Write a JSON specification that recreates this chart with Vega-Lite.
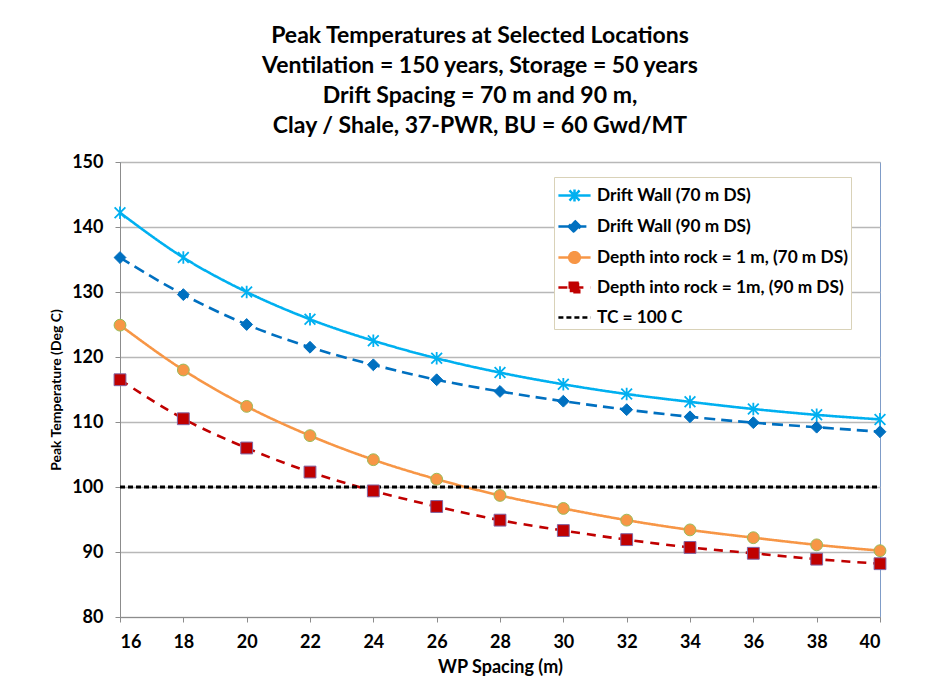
{
  "$schema": "https://vega.github.io/schema/vega-lite/v6.json",
  "width": 760,
  "height": 455,
  "autosize": {"type": "none"},
  "padding": {"left": 120, "top": 162, "right": 56, "bottom": 68},
  "background": "white",
  "config": {
    "font": "Lato",
    "view": {"stroke": "#7f9cc8", "strokeWidth": 1},
    "axis": {"labelFont": "Lato", "labelFontSize": 18, "labelFontWeight": "bold", "labelColor": "black", "titleFont": "Lato", "titleFontSize": 18, "titleFontWeight": "bold", "titleColor": "black", "domainColor": "#8c8c8c", "tickColor": "#8c8c8c", "tickSize": 5}
  },
  "title": {
    "text": ["Peak Temperatures at Selected Locations", "Ventilation = 150 years, Storage = 50 years", "Drift Spacing = 70 m and 90 m,", "Clay / Shale, 37-PWR, BU = 60 Gwd/MT"],
    "font": "Lato", "fontSize": 23, "fontWeight": "bold", "color": "black", "lineHeight": 30, "anchor": "middle", "dx": -20, "offset": 15
  },
  "data": {"values": [
    {"series": "Drift Wall (70 m DS)", "spacing": 16, "temp": 142.2},
    {"series": "Drift Wall (70 m DS)", "spacing": 18, "temp": 135.3},
    {"series": "Drift Wall (70 m DS)", "spacing": 20, "temp": 130.0},
    {"series": "Drift Wall (70 m DS)", "spacing": 22, "temp": 125.8},
    {"series": "Drift Wall (70 m DS)", "spacing": 24, "temp": 122.5},
    {"series": "Drift Wall (70 m DS)", "spacing": 26, "temp": 119.8},
    {"series": "Drift Wall (70 m DS)", "spacing": 28, "temp": 117.6},
    {"series": "Drift Wall (70 m DS)", "spacing": 30, "temp": 115.8},
    {"series": "Drift Wall (70 m DS)", "spacing": 32, "temp": 114.3},
    {"series": "Drift Wall (70 m DS)", "spacing": 34, "temp": 113.1},
    {"series": "Drift Wall (70 m DS)", "spacing": 36, "temp": 112.0},
    {"series": "Drift Wall (70 m DS)", "spacing": 38, "temp": 111.1},
    {"series": "Drift Wall (70 m DS)", "spacing": 40, "temp": 110.4},
    {"series": "Drift Wall (90 m DS)", "spacing": 16, "temp": 135.3},
    {"series": "Drift Wall (90 m DS)", "spacing": 18, "temp": 129.6},
    {"series": "Drift Wall (90 m DS)", "spacing": 20, "temp": 125.0},
    {"series": "Drift Wall (90 m DS)", "spacing": 22, "temp": 121.5},
    {"series": "Drift Wall (90 m DS)", "spacing": 24, "temp": 118.8},
    {"series": "Drift Wall (90 m DS)", "spacing": 26, "temp": 116.5},
    {"series": "Drift Wall (90 m DS)", "spacing": 28, "temp": 114.7},
    {"series": "Drift Wall (90 m DS)", "spacing": 30, "temp": 113.2},
    {"series": "Drift Wall (90 m DS)", "spacing": 32, "temp": 111.9},
    {"series": "Drift Wall (90 m DS)", "spacing": 34, "temp": 110.8},
    {"series": "Drift Wall (90 m DS)", "spacing": 36, "temp": 109.9},
    {"series": "Drift Wall (90 m DS)", "spacing": 38, "temp": 109.2},
    {"series": "Drift Wall (90 m DS)", "spacing": 40, "temp": 108.5},
    {"series": "Depth into rock = 1 m, (70 m DS)", "spacing": 16, "temp": 124.9},
    {"series": "Depth into rock = 1 m, (70 m DS)", "spacing": 18, "temp": 118.0},
    {"series": "Depth into rock = 1 m, (70 m DS)", "spacing": 20, "temp": 112.4},
    {"series": "Depth into rock = 1 m, (70 m DS)", "spacing": 22, "temp": 107.9},
    {"series": "Depth into rock = 1 m, (70 m DS)", "spacing": 24, "temp": 104.2},
    {"series": "Depth into rock = 1 m, (70 m DS)", "spacing": 26, "temp": 101.2},
    {"series": "Depth into rock = 1 m, (70 m DS)", "spacing": 28, "temp": 98.7},
    {"series": "Depth into rock = 1 m, (70 m DS)", "spacing": 30, "temp": 96.7},
    {"series": "Depth into rock = 1 m, (70 m DS)", "spacing": 32, "temp": 94.9},
    {"series": "Depth into rock = 1 m, (70 m DS)", "spacing": 34, "temp": 93.4},
    {"series": "Depth into rock = 1 m, (70 m DS)", "spacing": 36, "temp": 92.2},
    {"series": "Depth into rock = 1 m, (70 m DS)", "spacing": 38, "temp": 91.1},
    {"series": "Depth into rock = 1 m, (70 m DS)", "spacing": 40, "temp": 90.2},
    {"series": "Depth into rock = 1m, (90 m DS)", "spacing": 16, "temp": 116.5},
    {"series": "Depth into rock = 1m, (90 m DS)", "spacing": 18, "temp": 110.5},
    {"series": "Depth into rock = 1m, (90 m DS)", "spacing": 20, "temp": 106.0},
    {"series": "Depth into rock = 1m, (90 m DS)", "spacing": 22, "temp": 102.3},
    {"series": "Depth into rock = 1m, (90 m DS)", "spacing": 24, "temp": 99.4},
    {"series": "Depth into rock = 1m, (90 m DS)", "spacing": 26, "temp": 97.0},
    {"series": "Depth into rock = 1m, (90 m DS)", "spacing": 28, "temp": 94.9},
    {"series": "Depth into rock = 1m, (90 m DS)", "spacing": 30, "temp": 93.3},
    {"series": "Depth into rock = 1m, (90 m DS)", "spacing": 32, "temp": 91.9},
    {"series": "Depth into rock = 1m, (90 m DS)", "spacing": 34, "temp": 90.7},
    {"series": "Depth into rock = 1m, (90 m DS)", "spacing": 36, "temp": 89.8},
    {"series": "Depth into rock = 1m, (90 m DS)", "spacing": 38, "temp": 88.9},
    {"series": "Depth into rock = 1m, (90 m DS)", "spacing": 40, "temp": 88.2},
    {"series": "TC = 100 C", "spacing": 16, "temp": 100},
    {"series": "TC = 100 C", "spacing": 40, "temp": 100}
  ]},
  "encoding": {
    "x": {"field": "spacing", "type": "quantitative", "scale": {"domain": [16, 40], "nice": false, "zero": false},
      "axis": {"values": [16, 18, 20, 22, 24, 26, 28, 30, 32, 34, 36, 38, 40], "grid": false, "title": "WP Spacing (m)", "labelPadding": 11, "titlePadding": 7}},
    "y": {"field": "temp", "type": "quantitative", "scale": {"domain": [80, 150], "nice": false, "zero": false},
      "axis": {"values": [80, 90, 100, 110, 120, 130, 140, 150], "grid": true, "gridColor": "#b8b8b8", "gridWidth": 1.3, "title": "Peak Temperature (Deg C)", "titleFontSize": 14, "labelPadding": 12, "titlePadding": 8}}
  },
  "layer": [
    {
      "mark": {"type": "line", "interpolate": "monotone"},
      "encoding": {
        "color": {"field": "series", "type": "nominal",
          "scale": {"domain": ["Drift Wall (70 m DS)", "Drift Wall (90 m DS)", "Depth into rock = 1 m, (70 m DS)", "Depth into rock = 1m, (90 m DS)", "TC = 100 C"],
                    "range": ["#00b0f0", "#0070c0", "#f79646", "#c00000", "#000000"]},
          "legend": {
            "orient": "none", "legendX": 434, "legendY": 15, "title": null,
            "fillColor": "white", "strokeColor": "#d9d2b8", "padding": 3,
            "labelFont": "Lato", "labelFontSize": 17.3, "labelFontWeight": "bold", "labelColor": "black", "labelLimit": 400,
            "symbolSize": 784, "symbolStrokeWidth": 2.5, "symbolOffset": 2, "labelOffset": 7, "rowPadding": 4,
            "encode": {"symbols": {"update": {
              "shape": {"signal": "datum.value === 'Drift Wall (70 m DS)' ? 'M-1.15,0L1.15,0M0,-0.42L0,0.42M-0.36,-0.36L0.36,0.36M-0.36,0.36L0.36,-0.36' : datum.value === 'Drift Wall (90 m DS)' ? 'M-1.15,0L1.15,0M0,-0.42L0.42,0L0,0.42L-0.42,0Z' : datum.value === 'Depth into rock = 1 m, (70 m DS)' ? 'M-1.15,0L1.15,0M-0.38,0A0.38,0.38,0,1,0,0.38,0A0.38,0.38,0,1,0,-0.38,0Z' : datum.value === 'Depth into rock = 1m, (90 m DS)' ? 'M-1.15,0L1.15,0M-0.34,-0.34L0.34,-0.34L0.34,0.34L-0.34,0.34Z' : 'M-1.15,0L1.15,0'"},
              "fill": {"signal": "datum.value === 'Drift Wall (90 m DS)' ? '#0070c0' : datum.value === 'Depth into rock = 1 m, (70 m DS)' ? '#f79646' : datum.value === 'Depth into rock = 1m, (90 m DS)' ? '#c00000' : 'transparent'"},
              "strokeDash": {"signal": "datum.value === 'Drift Wall (90 m DS)' ? [7, 4] : datum.value === 'Depth into rock = 1m, (90 m DS)' ? [6, 4] : datum.value === 'TC = 100 C' ? [5, 3] : [1, 0]"}
            }}}
          }},
        "strokeDash": {"field": "series", "type": "nominal",
          "scale": {"domain": ["Drift Wall (70 m DS)", "Drift Wall (90 m DS)", "Depth into rock = 1 m, (70 m DS)", "Depth into rock = 1m, (90 m DS)", "TC = 100 C"],
                    "range": [[1, 0], [11, 6], [1, 0], [9, 7], [5, 3]]},
          "legend": null},
        "strokeWidth": {"condition": {"test": "datum.series === 'TC = 100 C'", "value": 3.2}, "value": 2.6}
      }
    },
    {
      "transform": [{"filter": "datum.series === 'Drift Wall (70 m DS)'"}],
      "mark": {"type": "point", "filled": false, "shape": "M0,-1L0,1M-0.85,-0.85L0.85,0.85M-0.85,0.85L0.85,-0.85", "size": 160, "strokeWidth": 1.8, "color": "#00b0f0", "opacity": 1},
      "encoding": {}
    },
    {
      "transform": [{"filter": "datum.series !== 'Drift Wall (70 m DS)' && datum.series !== 'TC = 100 C'"}],
      "mark": {"type": "point", "filled": true, "size": 140, "strokeWidth": 1, "opacity": 1},
      "encoding": {
        "fill": {"field": "series", "type": "nominal",
          "scale": {"domain": ["Drift Wall (90 m DS)", "Depth into rock = 1 m, (70 m DS)", "Depth into rock = 1m, (90 m DS)"], "range": ["#0070c0", "#f79646", "#c00000"]}, "legend": null},
        "stroke": {"field": "series", "type": "nominal",
          "scale": {"domain": ["Drift Wall (90 m DS)", "Depth into rock = 1 m, (70 m DS)", "Depth into rock = 1m, (90 m DS)"], "range": ["#0070c0", "#9bbb59", "#8064a2"]}, "legend": null},
        "shape": {"field": "series", "type": "nominal",
          "scale": {"domain": ["Drift Wall (90 m DS)", "Depth into rock = 1 m, (70 m DS)", "Depth into rock = 1m, (90 m DS)"], "range": ["diamond", "circle", "square"]}, "legend": null}
      }
    }
  ]
}
